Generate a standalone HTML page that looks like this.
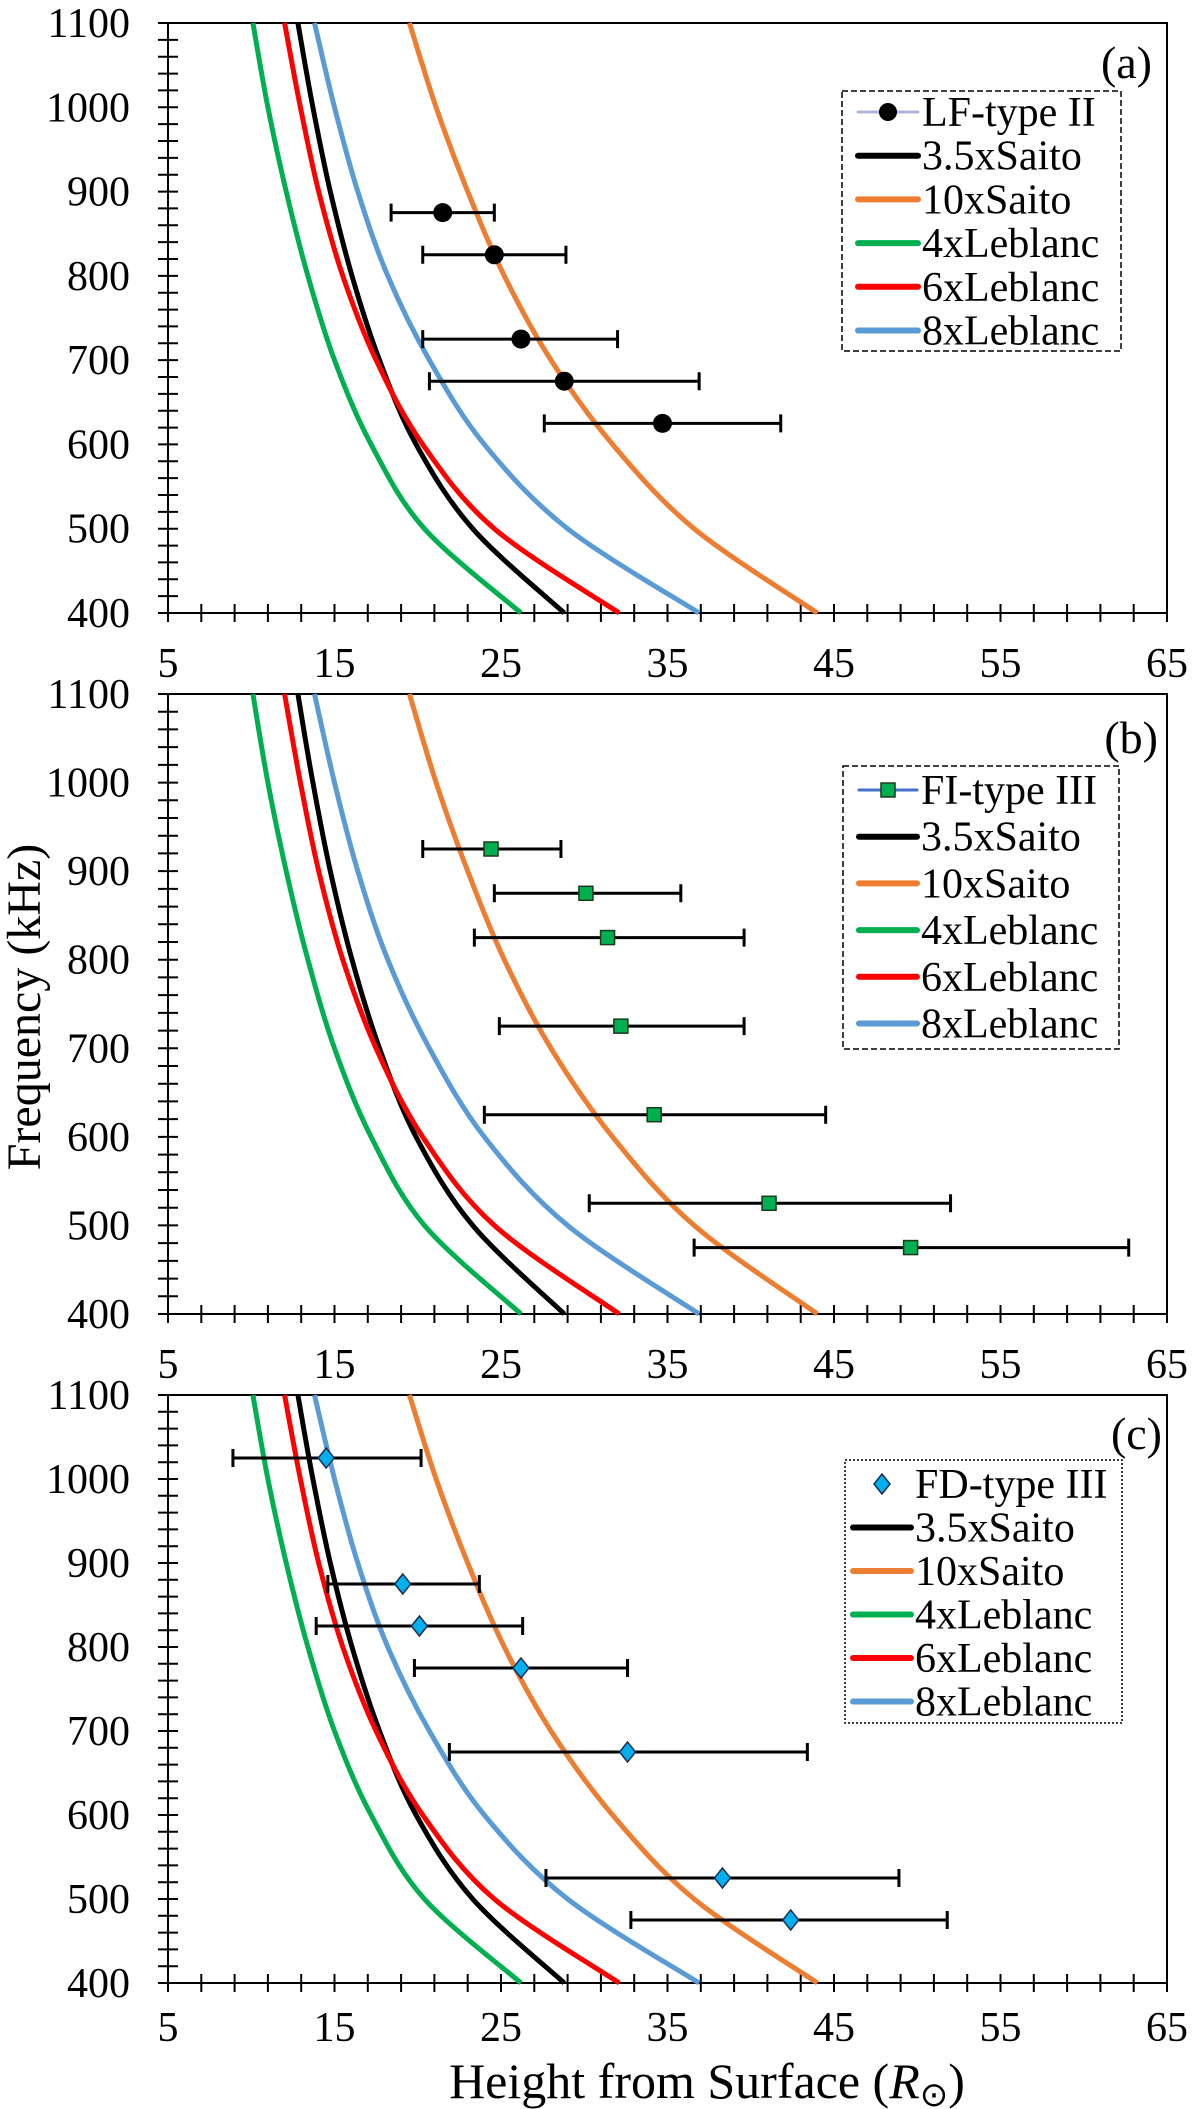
<!DOCTYPE html>
<html><head><meta charset="utf-8"><style>
html,body{margin:0;padding:0;background:#fff}
svg{display:block}
text{font-family:"Liberation Serif","Times New Roman",serif;fill:#000}
</style></head><body>
<svg id="chart" width="1200" height="2109" viewBox="0 0 1200 2109" xmlns="http://www.w3.org/2000/svg">
<text x="0" y="0" font-size="48" text-anchor="middle" transform="translate(40,1007) rotate(-90)">Frequency (kHz)</text>
<text x="707" y="2098" font-size="50" text-anchor="middle">Height from Surface (<tspan font-style="italic">R</tspan><tspan font-size="34" dy="8">⊙</tspan><tspan dy="-8">)</tspan></text>
</svg>
<script>
// shared model-curve data
const curveFreqs = [1100, 1000, 900, 800, 700, 600, 500, 400];
const saito35 = [12.8, 13.7, 14.75, 16.05, 17.7, 19.9, 23.3, 28.8];
const saito10 = [19.5, 21.1, 23.0, 25.2, 28.0, 31.7, 36.6, 44.0];
const leblanc4 = [10.1, 11.0, 12.1, 13.4, 15.0, 17.2, 20.4, 26.2];
const leblanc6 = [12.0, 12.95, 14.05, 15.5, 17.5, 20.3, 24.6, 32.1];
const leblanc8 = [13.8, 15.0, 16.4, 18.2, 20.7, 24.0, 29.0, 36.9];
// panel (a) LF-type II
const aFreq = [875, 825, 725, 675, 625];
const aHeight = [21.5, 24.6, 26.2, 28.8, 34.7];
const aLow = [18.4, 20.3, 20.3, 20.7, 27.6];
const aHigh = [24.6, 28.9, 32.0, 36.9, 41.8];
// panel (b) FI-type III
const bFreq = [925, 875, 825, 725, 625, 525, 475];
const bHeight = [24.4, 30.1, 31.4, 32.2, 34.2, 41.1, 49.6];
const bLow = [20.3, 24.6, 23.4, 24.9, 24.0, 30.3, 36.6];
const bHigh = [28.6, 35.8, 39.6, 39.6, 44.5, 52.0, 62.7];
// panel (c) FD-type III
const cFreq = [1025, 875, 825, 775, 675, 525, 475];
const cHeight = [14.5, 19.1, 20.1, 26.2, 32.6, 38.3, 42.4];
const cLow = [8.9, 14.6, 13.9, 19.8, 21.9, 27.7, 32.8];
const cHigh = [20.2, 23.7, 26.3, 32.6, 43.4, 48.9, 51.8];
// axis ticks
const xTicks = [5, 15, 25, 35, 45, 55, 65];
const yTicks = [400, 500, 600, 700, 800, 900, 1000, 1100];
const seriesNames = ["3.5xSaito", "10xSaito", "4xLeblanc", "6xLeblanc", "8xLeblanc"];

const NS = "http://www.w3.org/2000/svg";
const svg = document.getElementById("chart");
const L = 168, R = 1167, XMIN = 5, XMAX = 65, YMIN = 400, YMAX = 1100;
function mk(tag, attrs, parent) {
  const e = document.createElementNS(NS, tag);
  for (const k in attrs) e.setAttribute(k, attrs[k]);
  (parent || svg).appendChild(e);
  return e;
}
function xs(v) { return L + (v - XMIN) / (XMAX - XMIN) * (R - L); }

const curveDefs = [
  {vals: saito35, color: "#000000"},
  {vals: saito10, color: "#ed7d31"},
  {vals: leblanc4, color: "#00b050"},
  {vals: leblanc6, color: "#ff0000"},
  {vals: leblanc8, color: "#5b9bd5"}
];

function spline(pts) {
  let d = "M" + pts[0][0].toFixed(1) + "," + pts[0][1].toFixed(1);
  for (let i = 0; i < pts.length - 1; i++) {
    const p0 = pts[Math.max(0, i - 1)], p1 = pts[i], p2 = pts[i + 1], p3 = pts[Math.min(pts.length - 1, i + 2)];
    const c1 = [p1[0] + (p2[0] - p0[0]) / 6, p1[1] + (p2[1] - p0[1]) / 6];
    const c2 = [p2[0] - (p3[0] - p1[0]) / 6, p2[1] - (p3[1] - p1[1]) / 6];
    d += " C" + c1.map(v=>v.toFixed(1)).join(",") + " " + c2.map(v=>v.toFixed(1)).join(",") + " " + p2.map(v=>v.toFixed(1)).join(",");
  }
  return d;
}

const panels = [
  {id: "a", top: 23, bot: 613, xlab: 677, freq: aFreq, h: aHeight, lo: aLow, hi: aHigh, marker: "circle",
   first: "LF-type II", firstLine: "#a9b5dc", box: [842, 91, 1121, 351], row0: 112, rowGap: 43.7, lx: [858, 918], tx: 922, dash: "6,3",
   tag: "(a)", tagX: 1152, tagY: 78},
  {id: "b", top: 694, bot: 1314, xlab: 1378, freq: bFreq, h: bHeight, lo: bLow, hi: bHigh, marker: "square",
   first: "FI-type III", firstLine: "#4472c4", box: [843, 766, 1119, 1049], row0: 790, rowGap: 46.7, lx: [859, 917], tx: 921, dash: "6,3",
   tag: "(b)", tagX: 1158, tagY: 753},
  {id: "c", top: 1395, bot: 1983, xlab: 2041, freq: cFreq, h: cHeight, lo: cLow, hi: cHigh, marker: "diamond",
   first: "FD-type III", firstLine: null, box: [845, 1460, 1122, 1723], row0: 1484, rowGap: 43.5, lx: [853, 911], tx: 915, dash: "2,2",
   tag: "(c)", tagX: 1162, tagY: 1449}
];

panels.forEach(p => {
  const g = mk("g", {});
  
  
  const ys = f => p.bot - (f - YMIN) / (YMAX - YMIN) * (p.bot - p.top);
  const frame = mk("rect", {x: L, y: p.top, width: R - L, height: p.bot - p.top, fill: "none", stroke: "#000", "stroke-width": 2}, g);
  
  
  for (let f = YMIN; f <= YMAX; f += 20) {
    const t = mk("line", {x1: L - 10, x2: L + 10, y1: ys(f), y2: ys(f), stroke: "#000", "stroke-width": 2}, g);
    
    
  }
  for (let v = XMIN; v <= XMAX; v += 2) {
    const t = mk("line", {x1: xs(v), x2: xs(v), y1: p.bot - 9, y2: p.bot + 9, stroke: "#000", "stroke-width": 2}, g);
    
    
  }
  yTicks.forEach(f => {
    const t = mk("text", {x: 130, y: ys(f) + 14, "font-size": 42, "text-anchor": "end"}, g);
    t.textContent = f;
    
    
  });
  xTicks.forEach(v => {
    const t = mk("text", {x: xs(v), y: p.xlab, "font-size": 42, "text-anchor": "middle"}, g);
    t.textContent = v;
    
    
  });
  curveDefs.forEach((c, i) => {
    const pts = curveFreqs.map((f, k) => [xs(c.vals[k]), ys(f)]);
    const path = mk("path", {d: spline(pts), fill: "none", stroke: c.color, "stroke-width": 5, "stroke-linejoin": "round"}, g);
    
    
  });
  p.freq.forEach((f, i) => {
    const y = ys(f);
    const eb = mk("path", {d: `M${xs(p.lo[i])},${y}H${xs(p.hi[i])}M${xs(p.lo[i])},${y-9}V${y+9}M${xs(p.hi[i])},${y-9}V${y+9}`, stroke: "#000", "stroke-width": 3, fill: "none"}, g);
    
    
    const x = xs(p.h[i]);
    let m;
    if (p.marker === "circle") m = mk("circle", {cx: x, cy: y, r: 9.5, fill: "#000"}, g);
    else if (p.marker === "square") m = mk("rect", {x: x - 7, y: y - 7, width: 14, height: 14, fill: "#00b050", stroke: "#1a3a1a", "stroke-width": 1.5}, g);
    else m = mk("path", {d: `M${x},${y-10}L${x+8},${y}L${x},${y+10}L${x-8},${y}Z`, fill: "#00b0f0", stroke: "#1a3050", "stroke-width": 1.5}, g);
    
    
  });
  const tg = mk("text", {x: p.tagX, y: p.tagY, "font-size": 46, "text-anchor": "end"}, g);
  tg.textContent = p.tag;
  
  
  const lg = mk("g", {}, g);
  
  
  const b = p.box;
  mk("rect", {x: b[0], y: b[1], width: b[2] - b[0], height: b[3] - b[1], fill: "#fff", stroke: "#000", "stroke-width": 1.5, "stroke-dasharray": p.dash}, lg);
  const names = [p.first].concat(seriesNames);
  const colors = [p.firstLine].concat(curveDefs.map(c => c.color));
  names.forEach((n, i) => {
    const ry = p.row0 + i * p.rowGap;
    const e = mk("g", {}, lg);
    
    
    if (colors[i]) mk("line", {x1: p.lx[0], x2: p.lx[1], y1: ry, y2: ry, stroke: colors[i], "stroke-width": i === 0 ? 3 : 6, "stroke-linecap": "round"}, e);
    if (i === 0) {
      const cx = (p.lx[0] + p.lx[1]) / 2;
      if (p.marker === "circle") mk("circle", {cx: cx, cy: ry, r: 9, fill: "#000"}, e);
      else if (p.marker === "square") mk("rect", {x: cx - 7, y: ry - 7, width: 14, height: 14, fill: "#00b050", stroke: "#1a3a1a", "stroke-width": 1.5}, e);
      else mk("path", {d: `M${cx},${ry-10}L${cx+8},${ry}L${cx},${ry+10}L${cx-8},${ry}Z`, fill: "#00b0f0", stroke: "#1a3050", "stroke-width": 1.5}, e);
    }
    const t = mk("text", {x: p.tx, y: ry + 14, "font-size": 42}, e);
    t.textContent = n;
  });
});
</script>
</body></html>
